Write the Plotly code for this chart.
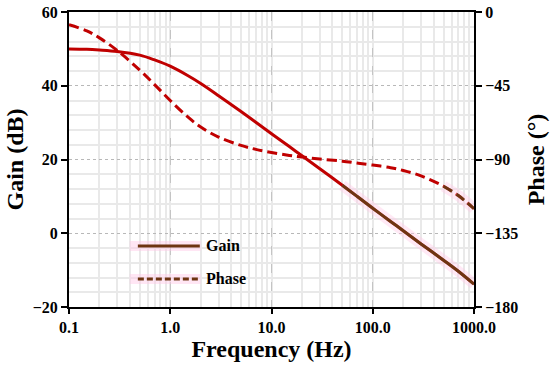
import plotly.graph_objects as go

# ---- data ----
freq = [0.1, 0.15, 0.2, 0.3, 0.5, 0.7, 1.0, 1.5, 2.0, 3.0, 5.0, 7.0, 10, 15, 20,
        30, 50, 70, 100, 150, 200, 300, 500, 700, 1000]
gain_db = [50.0, 49.9, 49.7, 49.3, 48.3, 47.0, 45.3, 42.7, 40.6, 37.3, 33.0, 30.1,
           27.0, 23.5, 21.0, 17.5, 13.0, 10.0, 6.8, 3.2, 0.7, -2.9, -7.3, -10.3, -13.8]
phase_deg = [-7.8, -11.5, -15.8, -23.5, -35.5, -44.3, -54.0, -64.2, -70.2, -76.3,
             -81.4, -83.8, -85.7, -87.5, -88.5, -89.7, -91.0, -92.2, -93.4, -95.0,
             -96.7, -100.0, -106.3, -112.0, -120.0]

x_tickvals = [0.1, 1, 10, 100, 1000]
x_ticktext = ["0.1", "1.0", "10.0", "100.0", "1000.0"]

# ---- styles ----
RED = "#C00000"
BROWN = "#6E3512"
HALO = "rgba(255,200,230,0.4)"
FONT = "Liberation Serif"
gain_tail_from = 45
phase_tail_from = 460

fig = go.Figure()

fig.add_trace(go.Scatter(x=freq, y=gain_db, mode="lines", name="Gain",
                         line=dict(color=RED, width=3, shape="spline", smoothing=1.0),
                         showlegend=False))
fig.add_trace(go.Scatter(x=freq, y=phase_deg, mode="lines", name="Phase", yaxis="y2",
                         line=dict(color=RED, width=3, dash="10px,5px", shape="spline", smoothing=1.0),
                         showlegend=False))

# brown tails with pink halo (as in the reference)
gt = [(f, g) for f, g in zip(freq, gain_db) if f >= gain_tail_from]
pt = [(f, p) for f, p in zip(freq, phase_deg) if f >= phase_tail_from]
fig.add_trace(go.Scatter(x=[a for a, _ in gt], y=[b for _, b in gt], mode="lines",
                         line=dict(color=HALO, width=11, shape="spline"), showlegend=False,
                         hoverinfo="skip"))
fig.add_trace(go.Scatter(x=[a for a, _ in gt], y=[b for _, b in gt], mode="lines",
                         line=dict(color=BROWN, width=3, shape="spline"), showlegend=False))
fig.add_trace(go.Scatter(x=[a for a, _ in pt], y=[b for _, b in pt], mode="lines", yaxis="y2",
                         line=dict(color=HALO, width=11, shape="spline"), showlegend=False,
                         hoverinfo="skip"))
fig.add_trace(go.Scatter(x=[a for a, _ in pt], y=[b for _, b in pt], mode="lines", yaxis="y2",
                         line=dict(color=BROWN, width=3, dash="10px,5px", shape="spline"),
                         showlegend=False))

# manual legend (paper coords)
leg = [("Gain", 0.207, "solid"), ("Phase", 0.095, "6px,3px")]
shapes = []
annotations = []
for name, yy, dash in leg:
    shapes.append(dict(type="line", xref="paper", yref="paper", x0=0.15, x1=0.325, y0=yy, y1=yy,
                       line=dict(color="rgba(255,200,230,0.45)", width=10)))
    shapes.append(dict(type="line", xref="paper", yref="paper", x0=0.17, x1=0.323, y0=yy, y1=yy,
                       line=dict(color=BROWN, width=3, dash=dash)))
    annotations.append(dict(text=name, xref="paper", yref="paper", x=0.333, y=yy,
                            xanchor="left", yanchor="middle", showarrow=False,
                            font=dict(family=FONT, size=16, color="black", weight="bold")))

tickfont = dict(family=FONT, size=16, color="black", weight="bold")
titlefont = dict(family=FONT, size=24, color="black", weight="bold")

fig.update_layout(
    width=550, height=366,
    margin=dict(l=69, r=76, t=12, b=59),
    paper_bgcolor="white", plot_bgcolor="white",
    shapes=shapes, annotations=annotations,
    xaxis=dict(type="log", range=[-1, 3], tickvals=x_tickvals, ticktext=x_ticktext,
               automargin=False,
               showline=True, linecolor="black", linewidth=2, mirror=True,
               ticks="outside", ticklen=5, tickwidth=2, tickcolor="black",
               tickfont=tickfont,
               title=dict(text="Frequency (Hz)", font=titlefont, standoff=2),
               showgrid=True, gridcolor="#c4c4c4", gridwidth=1, griddash="dash",
               minor=dict(dtick="D1", showgrid=True, gridcolor="#e9e9e9", gridwidth=1.5,
                          griddash="solid", ticks=""),
               zeroline=False),
    yaxis=dict(range=[-20, 60], dtick=20, tick0=0, automargin=False,
               showline=True, linecolor="black", linewidth=2, mirror=True,
               ticks="outside", ticklen=6, tickwidth=2, tickcolor="black",
               tickfont=tickfont,
               title=dict(text="Gain (dB)", font=titlefont, standoff=2),
               showgrid=True, gridcolor="#b8b8b8", gridwidth=1, griddash="dot",
               minor=dict(dtick=4, showgrid=True, gridcolor="#e9e9e9", gridwidth=1.5,
                          griddash="solid", ticks=""),
               zeroline=False),
    yaxis2=dict(range=[-180, 0], dtick=45, tick0=0, overlaying="y", side="right",
                automargin=False,
                showline=True, linecolor="black", linewidth=2,
                ticks="outside", ticklen=6, tickwidth=2, tickcolor="black",
                tickfont=tickfont, showgrid=False, zeroline=False,
                title=dict(text="Phase (°)", font=titlefont, standoff=10)),
)

# remove the page's default 8px body margin so the figure fills the window
fig.write_html("out.html", config={"displayModeBar": False},
               post_script="document.body.style.margin='0';")
